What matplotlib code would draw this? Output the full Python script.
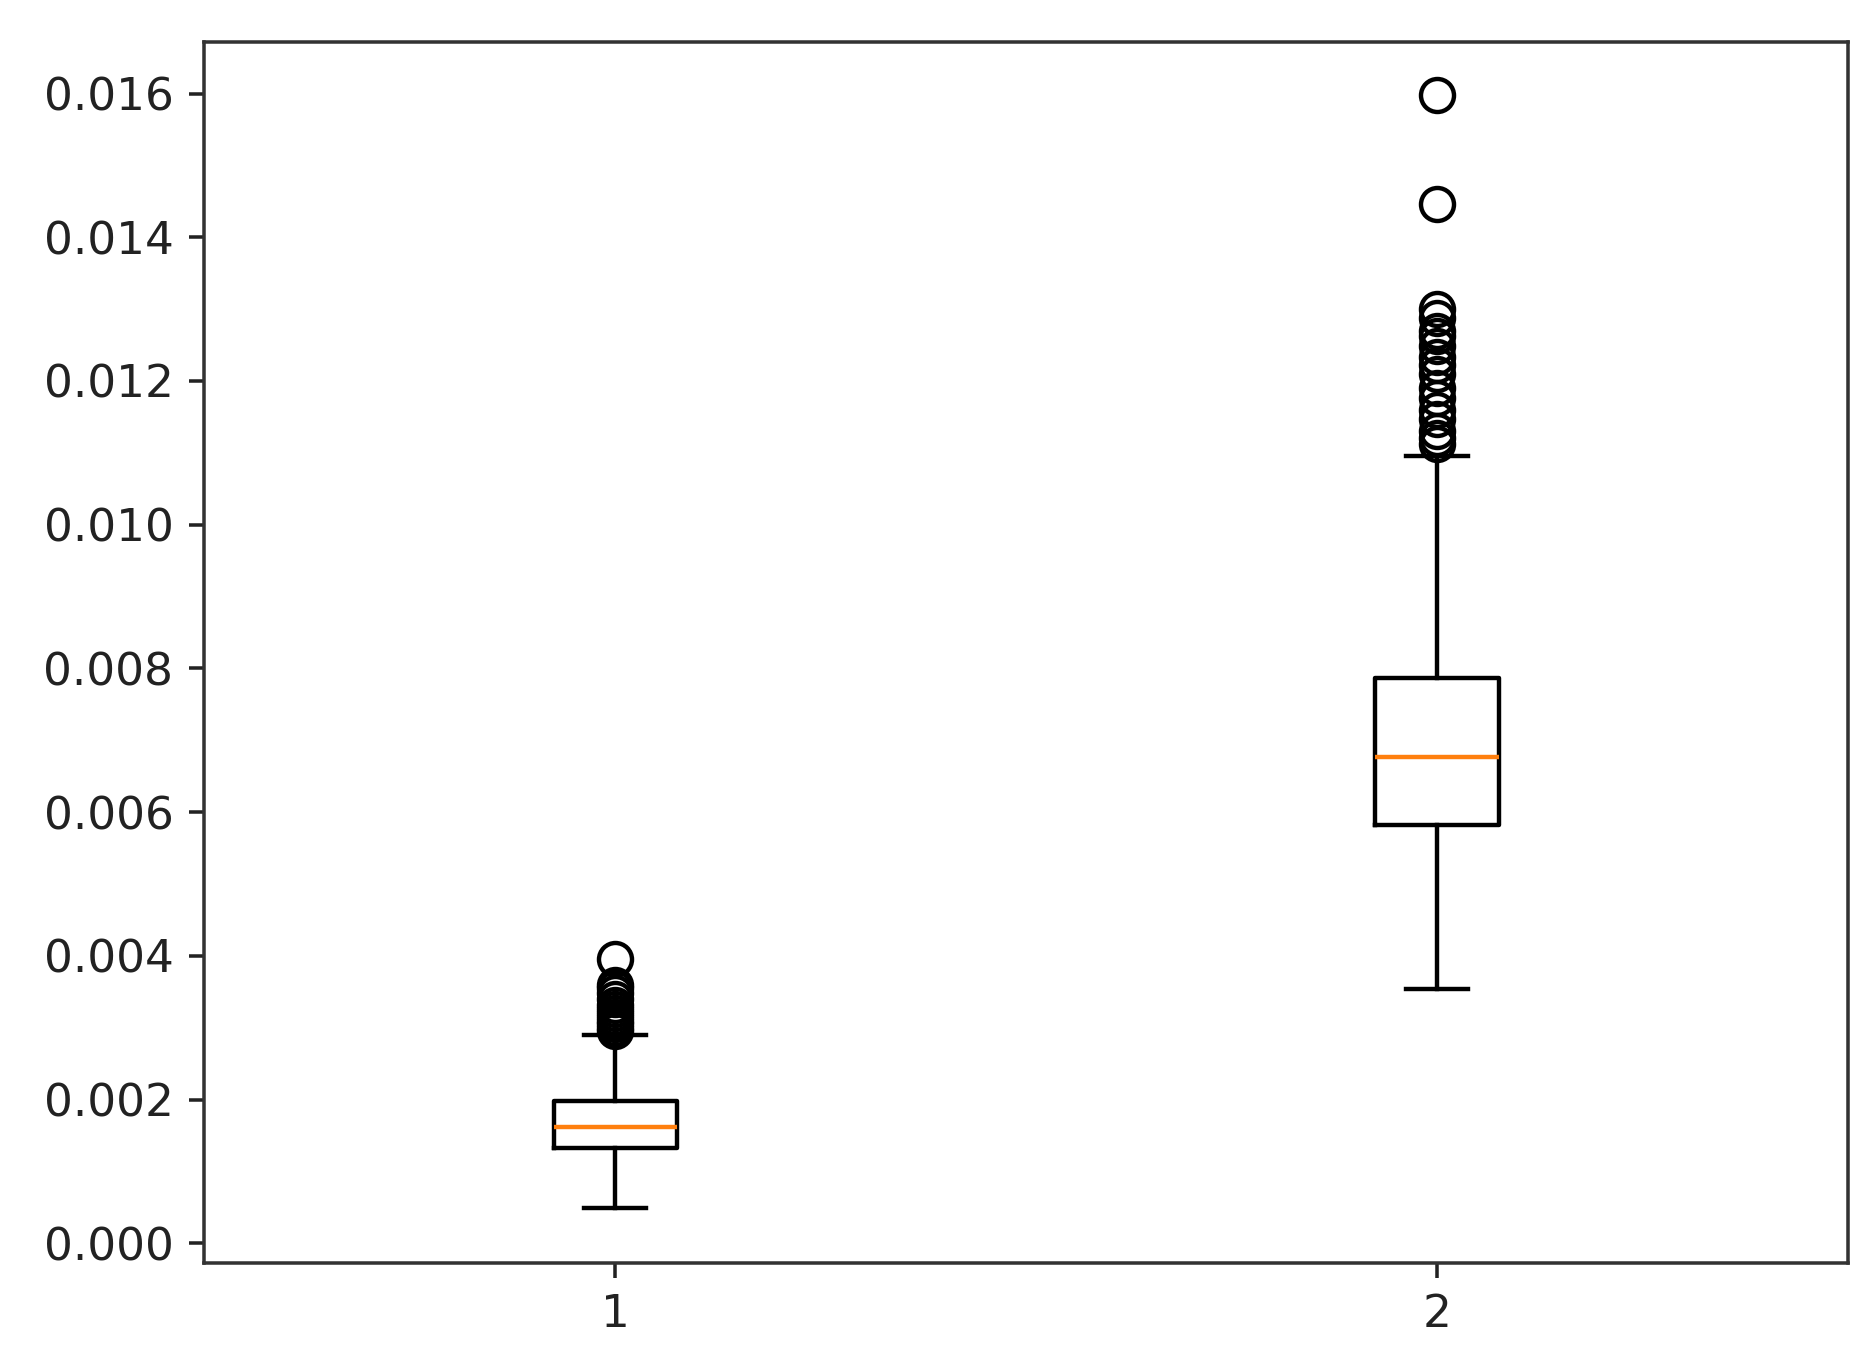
import matplotlib
matplotlib.use("Agg")
import matplotlib.pyplot as plt

# box statistics
labels = ['1', '2']
whislo = [0.000498, 0.003542]
q1 = [0.00133, 0.00582]
med = [0.001614, 0.006767]
q3 = [0.001979, 0.007865]
whishi = [0.002894, 0.010958]

fliers_1 = [0.00296, 0.00300, 0.00305, 0.00310, 0.00315, 0.00320, 0.00326,
            0.00332, 0.00340, 0.00348, 0.00355, 0.00360, 0.00396]
fliers_2 = [0.01112, 0.01120, 0.01130, 0.01147, 0.01160, 0.01177, 0.01190,
            0.01210, 0.01222, 0.01233, 0.01249, 0.01262, 0.01270, 0.01287,
            0.01300, 0.014467, 0.01598]
fliers = [fliers_1, fliers_2]

stats = []
for i in range(len(labels)):
    stats.append({'label': labels[i], 'whislo': whislo[i], 'q1': q1[i],
                  'med': med[i], 'q3': q3[i], 'whishi': whishi[i],
                  'fliers': fliers[i]})

plt.rcParams['font.size'] = 10.3
plt.rcParams['xtick.color'] = '#222222'
plt.rcParams['ytick.color'] = '#222222'

dpi = 317
fig, ax = plt.subplots(figsize=(1874 / dpi, 1359 / dpi), dpi=dpi)
fig.subplots_adjust(left=0.109, right=0.986, bottom=0.071, top=0.969)

ax.bxp(stats, flierprops={'markersize': 7.5})
ax.set_ylim(-0.000266, 0.016715)
for s in ax.spines.values():
    s.set_color('#333333')

fig.savefig('out.png', dpi=dpi)
